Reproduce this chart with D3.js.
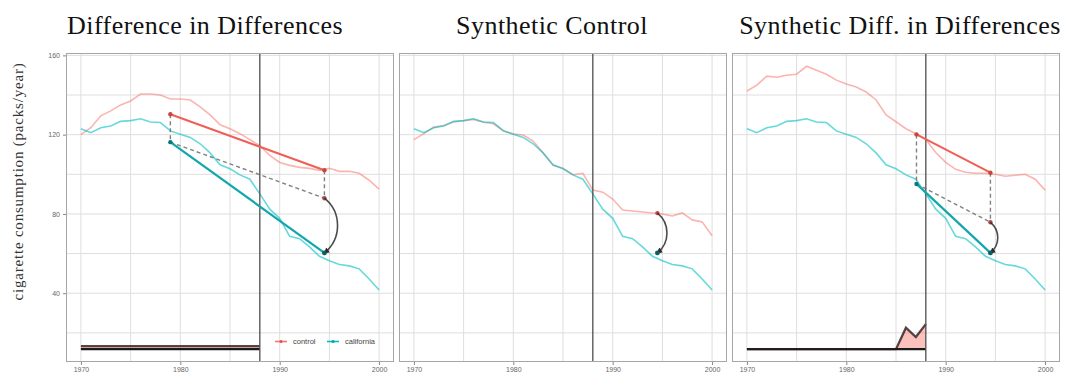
<!DOCTYPE html>
<html>
<head>
<meta charset="utf-8">
<script src="https://cdn.jsdelivr.net/npm/d3@7"></script>
<style>
  html, body { margin: 0; padding: 0; background: #fff; }
  svg { display: block; }
</style>
</head>
<body>
<svg id="chart" width="1070" height="374"></svg>
<script>
// Per-capita cigarette sales, California vs. three kinds of comparison series
const years = [1970, 1971, 1972, 1973, 1974, 1975, 1976, 1977, 1978, 1979,
               1980, 1981, 1982, 1983, 1984, 1985, 1986, 1987, 1988, 1989,
               1990, 1991, 1992, 1993, 1994, 1995, 1996, 1997, 1998, 1999, 2000];

const california = [123.0, 121.0, 123.5, 124.4, 126.7, 127.1, 128.0, 126.4, 126.1, 121.9,
                    120.2, 118.6, 115.4, 110.8, 104.8, 102.8, 99.7, 97.5, 90.1, 82.4,
                    77.8, 68.7, 67.5, 63.4, 58.6, 56.4, 54.5, 53.8, 52.3, 47.2, 41.6];

// plain average of the control states
const didControl = [120.0, 123.5, 129.5, 132.0, 135.0, 137.0, 140.5, 140.5, 140.0, 138.0,
                    138.0, 137.5, 134.0, 130.0, 125.0, 123.0, 120.5, 117.5, 114.5, 109.5,
                    106.0, 104.5, 103.5, 103.0, 102.0, 103.0, 101.5, 101.5, 100.5, 97.0, 92.5];

// synthetic control
const scControl = [117.5, 120.5, 123.8, 124.6, 126.4, 127.0, 127.7, 126.3, 125.5, 122.0,
                   120.3, 119.8, 116.8, 110.8, 104.5, 103.0, 99.8, 100.5, 92.0, 91.0,
                   87.5, 82.0, 81.5, 81.0, 80.5, 80.0, 79.0, 80.5, 77.0, 76.0, 69.0];

// synthetic diff-in-diff control (unit weighted, level shifted)
const sdidControl = [142.0, 145.0, 149.5, 149.0, 150.0, 150.5, 154.5, 152.5, 150.5, 147.5,
                     145.5, 144.0, 141.5, 137.5, 130.0, 126.5, 123.0, 120.5, 117.5, 111.0,
                     106.0, 102.5, 101.0, 100.5, 100.5, 100.0, 99.0, 99.5, 100.0, 97.5, 92.0];

// time weights over the pre-treatment years 1970-1988
const preYears = [1970, 1971, 1972, 1973, 1974, 1975, 1976, 1977, 1978, 1979,
                  1980, 1981, 1982, 1983, 1984, 1985, 1986, 1987, 1988];
const didLambda = [0.0526, 0.0526, 0.0526, 0.0526, 0.0526, 0.0526, 0.0526, 0.0526, 0.0526, 0.0526,
                   0.0526, 0.0526, 0.0526, 0.0526, 0.0526, 0.0526, 0.0526, 0.0526, 0.0526];
const sdidLambda = [0, 0, 0, 0, 0, 0, 0, 0, 0, 0,
                    0, 0, 0, 0, 0, 0, 0.366, 0.206, 0.427];

const treatYear = 1988;
const panelTitles = ["Difference in Differences", "Synthetic Control", "Synthetic Diff. in Differences"];
const xTicks = [1970, 1980, 1990, 2000];
const yTicks = [40, 80, 120, 160];
const legendLabels = ["control", "california"];
const yTitle = "cigarette consumption (packs/year)";

// ---- layout & styling ----
const svg = d3.select("#chart");
const panelLeft = [66, 399, 732];
const panelW = 328;
const plotTop = 53, plotBottom = 362;
const titleCenters = [205, 552, 900];
const RED = "#F8766D", TEAL = "#00BFC4";
const weightBase = 11.8, weightScale = 29.5;

const y = d3.scaleLinear().domain([5.3, 161.2]).range([plotBottom, plotTop]);

svg.append("rect").attr("width", 1070).attr("height", 374).attr("fill", "#fff");

const defs = svg.append("defs");
defs.append("marker")
  .attr("id", "arrowhead")
  .attr("viewBox", "0 0 10 10")
  .attr("refX", 8).attr("refY", 5)
  .attr("markerWidth", 6).attr("markerHeight", 6)
  .attr("markerUnits", "userSpaceOnUse")
  .attr("orient", "auto")
  .append("path").attr("d", "M0,0 L10,5 L0,10 z").attr("fill", "#2b2b2b");

const postIdx = years.map((yr, i) => i).filter(i => years[i] > treatYear);
const postYears = postIdx.map(i => years[i]);

function weightedPre(series, lambda) {
  const tot = d3.sum(lambda);
  const v = d3.sum(preYears, (yr, k) => series[years.indexOf(yr)] * lambda[k]) / tot;
  const t = d3.sum(preYears, (yr, k) => yr * lambda[k]) / tot;
  return { t, v };
}
function postMean(series) {
  return { t: d3.mean(postYears), v: d3.mean(postIdx, i => series[i]) };
}

function arcPath(x1, y1, x2, y2) {
  const L = Math.abs(y2 - y1);
  const s = 0.24 * L;
  const r = (L * L / 4 + s * s) / (2 * s);
  return `M${x1},${y1} A${r},${r} 0 0 1 ${x2},${y2}`;
}

// axis title
svg.append("text")
  .attr("transform", `translate(23,${(plotTop + plotBottom) / 2 - 26}) rotate(-90)`)
  .attr("text-anchor", "middle")
  .attr("font-family", "'Liberation Serif', 'DejaVu Serif', serif")
  .attr("font-size", 15)
  .attr("letter-spacing", 0.8)
  .attr("fill", "#333")
  .text(yTitle);

const controls = [didControl, scControl, sdidControl];
const lambdas = [didLambda, null, sdidLambda];

controls.forEach((ctrl, p) => {
  const x0 = panelLeft[p];
  const x = d3.scaleLinear().domain([1968.5, 2001.5]).range([x0, x0 + panelW]);
  const g = svg.append("g");

  // title
  svg.append("text")
    .attr("x", titleCenters[p]).attr("y", 34)
    .attr("text-anchor", "middle")
    .attr("font-family", "'Liberation Serif', 'DejaVu Serif', serif")
    .attr("font-size", 26)
    .attr("letter-spacing", 0.45)
    .attr("fill", "#111")
    .text(panelTitles[p]);

  // grid
  const grid = g.append("g").attr("stroke", "#dedede").attr("stroke-width", 1);
  const yMinor = yTicks.map(v => v - 20);
  const xMinor = xTicks.slice(0, -1).map(v => v + 5);
  yTicks.concat(yMinor).forEach(v => {
    grid.append("line").attr("x1", x0).attr("x2", x0 + panelW)
      .attr("y1", y(v)).attr("y2", y(v));
  });
  xTicks.concat(xMinor).forEach(v => {
    grid.append("line").attr("y1", plotTop).attr("y2", plotBottom)
      .attr("x1", x(v)).attr("x2", x(v));
  });

  // time-weight ribbon
  if (lambdas[p]) {
    const lam = lambdas[p];
    const area = d3.area()
      .x((d, k) => x(preYears[k]))
      .y0(y(weightBase))
      .y1(d => y(weightBase + d * weightScale));
    g.append("path").datum(lam).attr("d", area)
      .attr("fill", RED).attr("fill-opacity", 0.45);
    const top = d3.line().x((d, k) => x(preYears[k])).y(d => y(weightBase + d * weightScale));
    const bot = d3.line().x((d, k) => x(preYears[k])).y(() => y(weightBase));
    g.append("path").datum(lam).attr("d", bot).attr("fill", "none")
      .attr("stroke", "#1a1a1a").attr("stroke-width", 2.3);
    g.append("path").datum(lam).attr("d", top).attr("fill", "none")
      .attr("stroke", "#2a1a1a").attr("stroke-width", 2.3).attr("stroke-opacity", 0.8);
  }

  // trajectories
  const line = d3.line().x((d, i) => x(years[i])).y(d => y(d));
  g.append("path").datum(ctrl).attr("d", line).attr("fill", "none")
    .attr("stroke", RED).attr("stroke-opacity", 0.55).attr("stroke-width", 1.6);
  g.append("path").datum(california).attr("d", line).attr("fill", "none")
    .attr("stroke", TEAL).attr("stroke-opacity", 0.6).attr("stroke-width", 1.6);

  // treatment year
  g.append("line").attr("x1", x(treatYear)).attr("x2", x(treatYear))
    .attr("y1", plotTop).attr("y2", plotBottom)
    .attr("stroke", "#4d4d4d").attr("stroke-width", 1.3);

  const cPost = postMean(ctrl), tPost = postMean(california);

  if (lambdas[p]) {
    const cPre = weightedPre(ctrl, lambdas[p]);
    const tPre = weightedPre(california, lambdas[p]);
    const cf = tPre.v + (cPost.v - cPre.v);

    const dash = { stroke: "#6b6b6b", "stroke-width": 1.4, "stroke-dasharray": "4,3", "stroke-opacity": 0.85 };
    const dl = (a, b, c, d) => {
      const l = g.append("line").attr("x1", a).attr("y1", b).attr("x2", c).attr("y2", d);
      Object.entries(dash).forEach(([k, v]) => l.attr(k, v));
    };
    dl(x(cPre.t), y(cPre.v), x(tPre.t), y(tPre.v));
    dl(x(cPost.t), y(cPost.v), x(cPost.t), y(cf));
    dl(x(tPre.t), y(tPre.v), x(cPost.t), y(cf));

    g.append("line").attr("x1", x(cPre.t)).attr("y1", y(cPre.v))
      .attr("x2", x(cPost.t)).attr("y2", y(cPost.v))
      .attr("stroke", "#ef5f56").attr("stroke-width", 2);
    g.append("line").attr("x1", x(tPre.t)).attr("y1", y(tPre.v))
      .attr("x2", x(tPost.t)).attr("y2", y(tPost.v))
      .attr("stroke", "#13a7ab").attr("stroke-width", 2.2);

    [[cPre.t, cPre.v, "#c9463f"], [cPost.t, cPost.v, "#c9463f"],
     [cPost.t, cf, "#a84a4f"], [tPre.t, tPre.v, "#0b777b"]].forEach(([t, v, c]) => {
      g.append("circle").attr("cx", x(t)).attr("cy", y(v)).attr("r", 2.2).attr("fill", c);
    });
    g.append("path").attr("d", arcPath(x(cPost.t), y(cf), x(tPost.t), y(tPost.v)))
      .attr("fill", "none").attr("stroke", "#2b2b2b").attr("stroke-opacity", 0.85)
      .attr("stroke-width", 1.6).attr("marker-end", "url(#arrowhead)");
  } else {
    g.append("circle").attr("cx", x(cPost.t)).attr("cy", y(cPost.v)).attr("r", 2.2).attr("fill", "#c9463f");
    g.append("path").attr("d", arcPath(x(cPost.t), y(cPost.v), x(tPost.t), y(tPost.v)))
      .attr("fill", "none").attr("stroke", "#2b2b2b").attr("stroke-opacity", 0.85)
      .attr("stroke-width", 1.6).attr("marker-end", "url(#arrowhead)");
  }
  g.append("circle").attr("cx", x(tPost.t)).attr("cy", y(tPost.v)).attr("r", 2.4).attr("fill", "#0b5f62");

  // panel border
  g.append("rect").attr("x", x0 + 0.5).attr("y", plotTop + 0.5)
    .attr("width", panelW - 1).attr("height", plotBottom - plotTop - 1)
    .attr("fill", "none").attr("stroke", "#a6a6a6").attr("stroke-width", 1);

  // axes
  const xa = svg.append("g").attr("transform", `translate(0,${plotBottom})`)
    .call(d3.axisBottom(x).tickValues(xTicks).tickSize(3).tickPadding(2).tickFormat(d3.format("d")));
  xa.select(".domain").remove();
  xa.selectAll("line").attr("stroke", "#888");
  xa.selectAll("text").attr("font-family", "'Liberation Sans', Arial, sans-serif")
    .attr("font-size", 7).attr("fill", "#666");

  if (p === 0) {
    const ya = svg.append("g").attr("transform", `translate(${x0},0)`)
      .call(d3.axisLeft(y).tickValues(yTicks).tickSize(3).tickPadding(3));
    ya.select(".domain").remove();
    ya.selectAll("line").attr("stroke", "#888");
    ya.selectAll("text").attr("font-family", "'Liberation Sans', Arial, sans-serif")
      .attr("font-size", 7).attr("fill", "#666");

    // legend
    const lg = svg.append("g").attr("transform", `translate(275,341.5)`);
    const keys = [[0, RED, "#e0554d"], [52, TEAL, "#0f9ea2"]];
    keys.forEach(([dx, c, dc], k) => {
      lg.append("line").attr("x1", dx).attr("x2", dx + 12).attr("y1", 0).attr("y2", 0)
        .attr("stroke", c).attr("stroke-width", 1.6);
      lg.append("circle").attr("cx", dx + 6).attr("cy", 0).attr("r", 1.6).attr("fill", dc);
      lg.append("text").attr("x", dx + 18).attr("y", 2.5)
        .attr("font-family", "'Liberation Sans', Arial, sans-serif")
        .attr("font-size", 7.5).attr("fill", "#444")
        .text(legendLabels[k]);
    });
  }
});
</script>
</body>
</html>
